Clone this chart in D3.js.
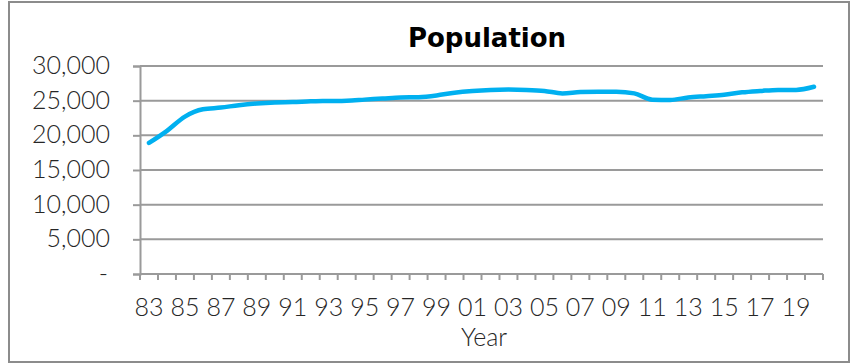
<!DOCTYPE html>
<html>
<head>
<meta charset="utf-8">
<script src="https://cdn.jsdelivr.net/npm/d3@7"></script>
<style>
  html, body { margin: 0; padding: 0; background: #fff; }
  svg { display: block; }
  .tick text { fill: #262626; }
</style>
</head>
<body>
<svg width="856" height="364"></svg>
<script>
// chart data
const years = [1983, 1984, 1985, 1986, 1987, 1988, 1989, 1990, 1991, 1992,
  1993, 1994, 1995, 1996, 1997, 1998, 1999, 2000, 2001, 2002,
  2003, 2004, 2005, 2006, 2007, 2008, 2009, 2010, 2011, 2012,
  2013, 2014, 2015, 2016, 2017, 2018, 2019, 2020];
const population = [18900, 20650, 22700, 23750, 24000, 24350, 24600, 24750, 24800, 24900,
  24950, 25000, 25150, 25300, 25450, 25500, 25750, 26150, 26400, 26550,
  26600, 26550, 26400, 26050, 26250, 26300, 26300, 26050, 25150, 25100,
  25450, 25650, 25850, 26200, 26400, 26550, 26550, 27000];
const yTicks = [0, 5000, 10000, 15000, 20000, 25000, 30000];
const xLabelYears = [1983, 1985, 1987, 1989, 1991, 1993, 1995, 1997, 1999, 2001,
  2003, 2005, 2007, 2009, 2011, 2013, 2015, 2017, 2019];
const title = "Population";
const xTitle = "Year";

let svg = d3.select("svg");
let gridColor = "#9a9a9a";
let font = "Lato, 'Open Sans', sans-serif";

// outer frame
svg.append("rect")
  .attr("x", 9).attr("y", 2)
  .attr("width", 840).attr("height", 360)
  .attr("fill", "#fff")
  .attr("stroke", "#8c8c8c")
  .attr("stroke-width", 2);

let x = d3.scaleBand().domain(years).range([140, 823]).padding(0);
let y = d3.scaleLinear().domain([0, 30000]).range([274, 66]);

// gridlines
svg.append("g")
  .selectAll("line")
  .data(yTicks.filter(d => d > 0))
  .enter()
  .append("line")
  .attr("x1", 140).attr("x2", 823)
  .attr("y1", d => y(d)).attr("y2", d => y(d))
  .attr("stroke", gridColor)
  .attr("stroke-width", 2);

// y axis
let yAxis = svg.append("g")
  .attr("transform", "translate(140,0)")
  .call(d3.axisLeft(y)
    .tickValues(yTicks)
    .tickSize(7)
    .tickPadding(23)
    .tickFormat(d => d === 0 ? "-" : d3.format(",")(d)));
yAxis.select(".domain").attr("stroke", gridColor).attr("stroke-width", 2);
yAxis.selectAll(".tick line").attr("stroke", gridColor).attr("stroke-width", 2);
yAxis.selectAll(".tick text")
  .attr("font-family", font)
  .attr("font-weight", 300)
  .attr("font-size", 25)
  .attr("dy", "0.3em");
yAxis.selectAll(".tick text").filter(d => d === 0).attr("dx", -2);

// x axis baseline + tick marks at category borders
svg.append("line")
  .attr("x1", 140).attr("x2", 823)
  .attr("y1", y(0)).attr("y2", y(0))
  .attr("stroke", gridColor).attr("stroke-width", 2);

svg.append("g")
  .selectAll("line")
  .data(years.concat(["end"]))
  .enter()
  .append("line")
  .attr("x1", d => d === "end" ? x.range()[1] : x(d))
  .attr("x2", d => d === "end" ? x.range()[1] : x(d))
  .attr("y1", y(0)).attr("y2", y(0) + 6)
  .attr("stroke", gridColor)
  .attr("stroke-width", 2);

let xAxis = svg.append("g")
  .attr("transform", "translate(0," + y(0) + ")")
  .call(d3.axisBottom(x)
    .tickValues(xLabelYears)
    .tickSize(0)
    .tickPadding(24)
    .tickFormat(d => String(d).slice(2)));
xAxis.select(".domain").remove();
xAxis.selectAll(".tick text")
  .attr("font-family", font)
  .attr("font-weight", 300)
  .attr("font-size", 25);

// series line
let line = d3.line()
  .x((d, i) => x(years[i]) + x.bandwidth() / 2)
  .y(d => y(d))
  .curve(d3.curveMonotoneX);

svg.append("path")
  .datum(population)
  .attr("d", line)
  .attr("fill", "none")
  .attr("stroke", "#00b0f0")
  .attr("stroke-width", 4.5)
  .attr("stroke-linecap", "round")
  .attr("stroke-linejoin", "round");

// titles
svg.append("text")
  .attr("x", 487).attr("y", 47)
  .attr("text-anchor", "middle")
  .attr("font-family", "'DejaVu Sans', sans-serif")
  .attr("font-weight", "bold")
  .attr("font-size", 26)
  .attr("fill", "#000")
  .text(title);

svg.append("text")
  .attr("x", 484).attr("y", 346)
  .attr("text-anchor", "middle")
  .attr("font-family", font)
  .attr("font-weight", 300)
  .attr("font-size", 25)
  .attr("fill", "#262626")
  .text(xTitle);
</script>
</body>
</html>
